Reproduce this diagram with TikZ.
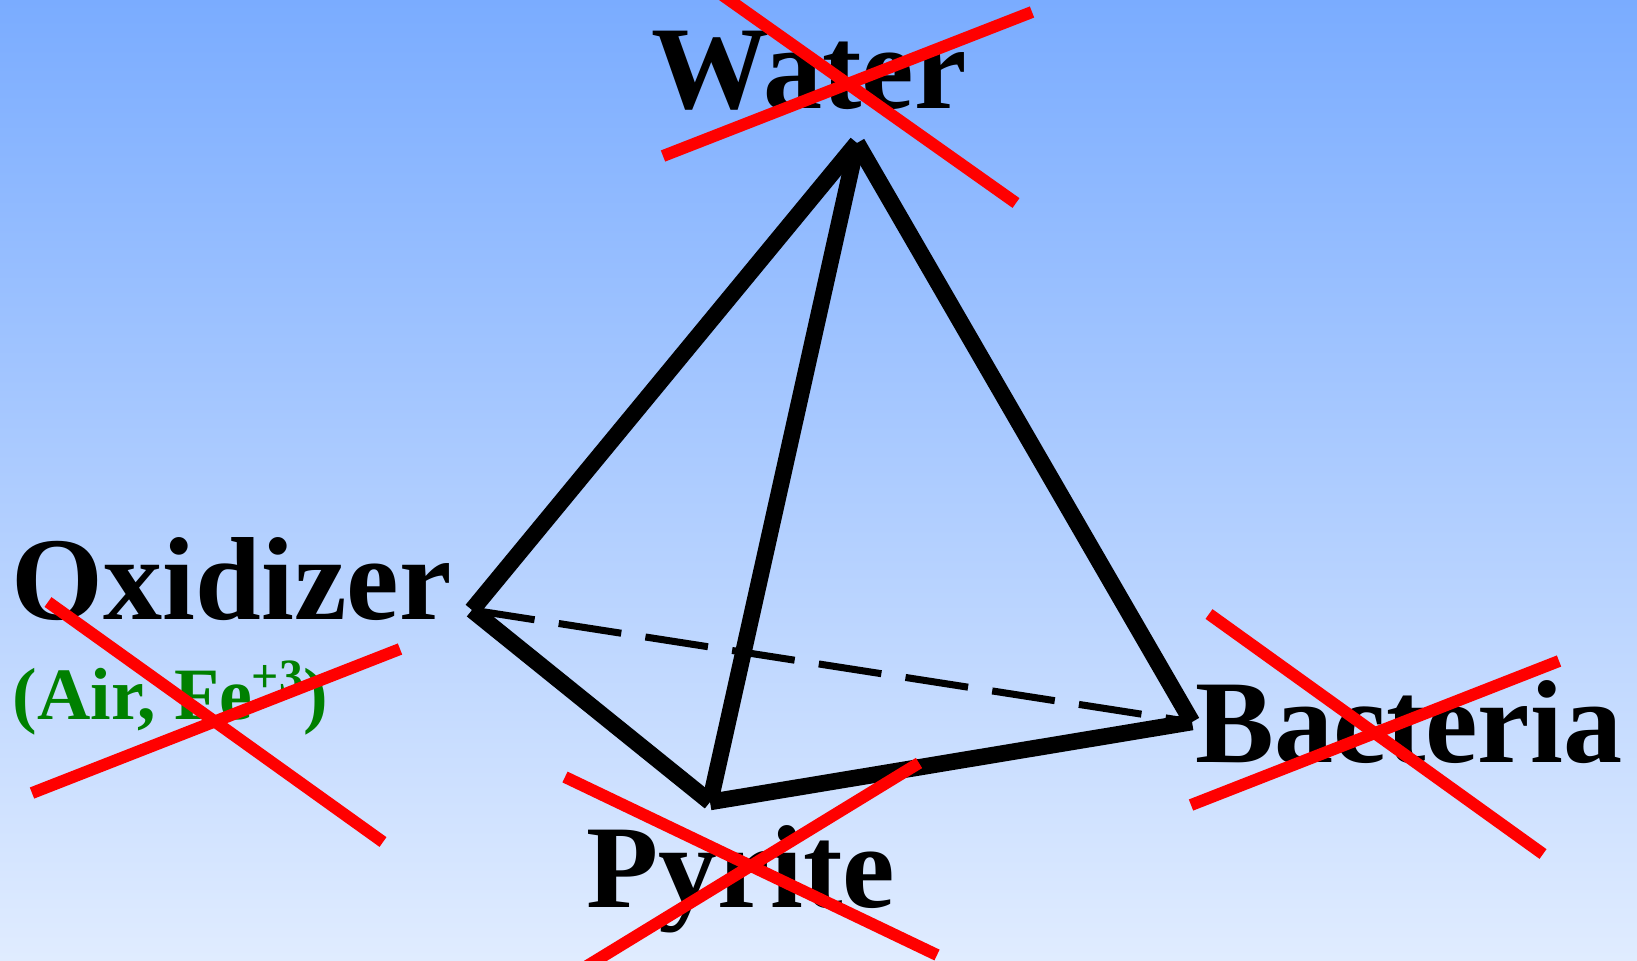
\documentclass[tikz,border=0pt]{standalone}
\usepackage{fontspec}
\setmainfont{Liberation Serif}
\usepackage{xcolor}
\definecolor{skytop}{RGB}{122,172,255}
\definecolor{skybottom}{RGB}{224,236,255}
\definecolor{notegreen}{RGB}{0,128,0}
\tikzset{
  tetra edge/.style={black,line width=4.7pt},
  tetra hidden/.style={black,line width=2pt,dash pattern=on 18pt off 6.95pt},
  cross line/.style={red,line width=3.4pt},
  corner label/.style={anchor=base west,inner sep=0pt,font=\fontsize{33.6}{36}\selectfont\bfseries},
  corner note/.style={anchor=base west,inner sep=0pt,text=notegreen,font=\fontsize{21}{24}\selectfont\bfseries}
}
\newcommand{\notesup}[1]{\raisebox{7.4pt}{\fontsize{13.6}{15}\selectfont #1}}
\begin{document}
\begin{tikzpicture}[x=0.01cm,y=-0.01cm]
  \useasboundingbox (0,0) rectangle (1637,960);
  \clip (0,0) rectangle (1637,960);
  \shade[top color=skytop,bottom color=skybottom] (0,0) rectangle (1637,960);

  \node[corner label] (water) at (651,108) {Water};
  \node[corner label] (oxidizer) at (11,619) {Oxidizer};
  \node[corner note] (oxnote) at (12,719) {(Air, Fe\notesup{+3})};
  \node[corner label] (pyrite) at (586,907) {Pyrite};
  \node[corner label] (bacteria) at (1195,762) {Bacteria};

  \coordinate (apex) at (857,143);
  \coordinate (left) at (472,610);
  \coordinate (front) at (710,802);
  \coordinate (right) at (1192,722);

  \draw[tetra edge] (apex) -- (left);
  \draw[tetra edge] (left) -- (front);
  \draw[tetra edge] (apex) -- (front);
  \draw[tetra edge] (apex) -- (right);
  \draw[tetra edge] (front) -- (right);
  \draw[tetra hidden] (left) -- (right);

  \coordinate (wa) at (718,-8);
  \coordinate (wb) at (1016,203);
  \coordinate (wc) at (663,156);
  \coordinate (wd) at (1032,12);
  \draw[cross line] (wa) -- (wb);
  \draw[cross line] (wc) -- (wd);

  \coordinate (oa) at (48,602);
  \coordinate (ob) at (383,842);
  \coordinate (oc) at (32,793);
  \coordinate (od) at (400,649);
  \draw[cross line] (oa) -- (ob);
  \draw[cross line] (oc) -- (od);

  \coordinate (pa) at (565,777);
  \coordinate (pb) at (937,955);
  \coordinate (pc) at (919,763);
  \coordinate (pd) at (587,966);
  \draw[cross line] (pa) -- (pb);
  \draw[cross line] (pc) -- (pd);

  \coordinate (ba) at (1209,614);
  \coordinate (bb) at (1543,854);
  \coordinate (bc) at (1191,805);
  \coordinate (bd) at (1559,661);
  \draw[cross line] (ba) -- (bb);
  \draw[cross line] (bc) -- (bd);
\end{tikzpicture}
\end{document}
